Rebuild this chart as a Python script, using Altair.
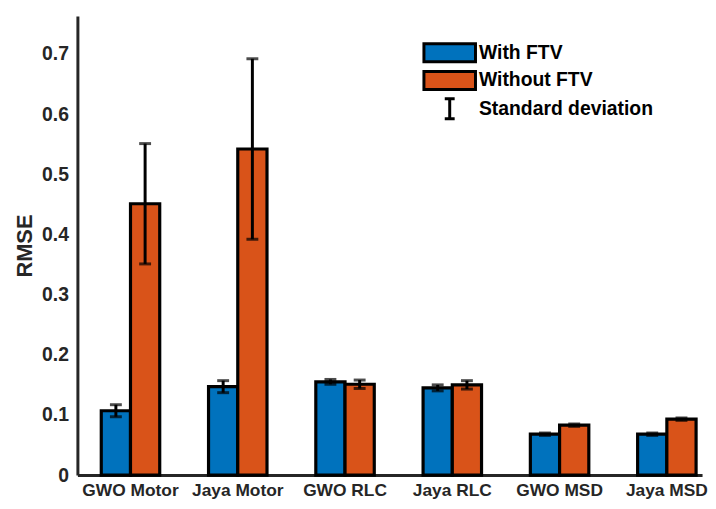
import altair as alt
import pandas as pd

categories = ["GWO Motor", "Jaya Motor", "GWO RLC", "Jaya RLC", "GWO MSD", "Jaya MSD"]
series = ["With FTV", "Without FTV"]
with_ftv = [0.107, 0.147, 0.155, 0.145, 0.068, 0.068]
without_ftv = [0.451, 0.542, 0.151, 0.150, 0.083, 0.093]
with_sd = [0.010, 0.010, 0.004, 0.005, 0.002, 0.002]
without_sd = [0.100, 0.150, 0.007, 0.007, 0.002, 0.002]
y_ticks = [0, 0.1, 0.2, 0.3, 0.4, 0.5, 0.6, 0.7]
colors = ["#0072BD", "#D95319"]

rows = []
for i, c in enumerate(categories):
    rows.append(dict(cat=c, series=series[0], rmse=with_ftv[i], sd=with_sd[i]))
    rows.append(dict(cat=c, series=series[1], rmse=without_ftv[i], sd=without_sd[i]))
df = pd.DataFrame(rows)
df["lo"] = df["rmse"] - df["sd"]
df["hi"] = df["rmse"] + df["sd"]
df["err"] = "Standard deviation"

FONT = "Liberation Sans"

x = alt.X("cat:N", sort=categories,
          scale=alt.Scale(paddingInner=0.455, paddingOuter=0.139, align=0.8),
          axis=alt.Axis(title=None, labelAngle=0, labelPadding=6.5, labelFontSize=17.5))
xo = alt.XOffset("series:N", sort=series, scale=alt.Scale(paddingInner=0, paddingOuter=0))
yscale = alt.Scale(domain=[0, 0.763], nice=False)

bars = alt.Chart(df).mark_bar(stroke="black", strokeWidth=3.2).encode(
    x=x, xOffset=xo,
    y=alt.Y("rmse:Q", scale=yscale,
            axis=alt.Axis(values=y_ticks, format=".1~f", title="RMSE",
                          labelPadding=9, titlePadding=5, labelFontSize=19.5)),
    color=alt.Color("series:N", sort=series,
                    scale=alt.Scale(domain=series, range=colors),
                    legend=alt.Legend(title=None, orient="none", legendX=364, legendY=25.5,
                                      symbolType="M-2.6,-0.9H2.6V0.9H-2.6Z", symbolSize=400,
                                      symbolStrokeColor="black", symbolStrokeWidth=3,
                                      labelOffset=18, rowPadding=-3, labelLimit=0)),
)

rules = alt.Chart(df).mark_rule(strokeWidth=3).encode(
    x=x, xOffset=xo,
    y=alt.Y("lo:Q", scale=yscale), y2="hi:Q",
    stroke=alt.Stroke("err:N", scale=alt.Scale(range=["black"]),
                      legend=alt.Legend(title=None, orient="none", legendX=364, legendY=82,
                                        symbolType="M-0.5,-1H0.5M0,-1V1M-0.5,1H0.5",
                                        symbolSize=400, symbolStrokeWidth=3,
                                        labelOffset=18, labelLimit=0)),
)

cap_lo = alt.Chart(df).mark_tick(orient="horizontal", size=12, thickness=3, color="black").encode(
    x=x, xOffset=xo, y=alt.Y("lo:Q", scale=yscale))
cap_hi = alt.Chart(df).mark_tick(orient="horizontal", size=12, thickness=3, color="black").encode(
    x=x, xOffset=xo, y=alt.Y("hi:Q", scale=yscale))

chart = alt.layer(bars, rules, cap_lo, cap_hi).properties(
    width=630, height=463, padding={"left": 5, "top": 6, "right": 0, "bottom": 0}
).configure_view(stroke=None).configure_axis(
    domainColor="#262626", domainWidth=3, ticks=False, grid=False,
    labelFont=FONT, labelFontWeight="bold", labelColor="#262626",
    titleFont=FONT, titleFontSize=22, titleFontWeight="bold", titleColor="#262626",
).configure_legend(
    labelFont=FONT, labelFontSize=19.5, labelFontWeight="bold", labelColor="black",
)

chart.save("out.html", embed_options={"renderer": "svg", "actions": False})
